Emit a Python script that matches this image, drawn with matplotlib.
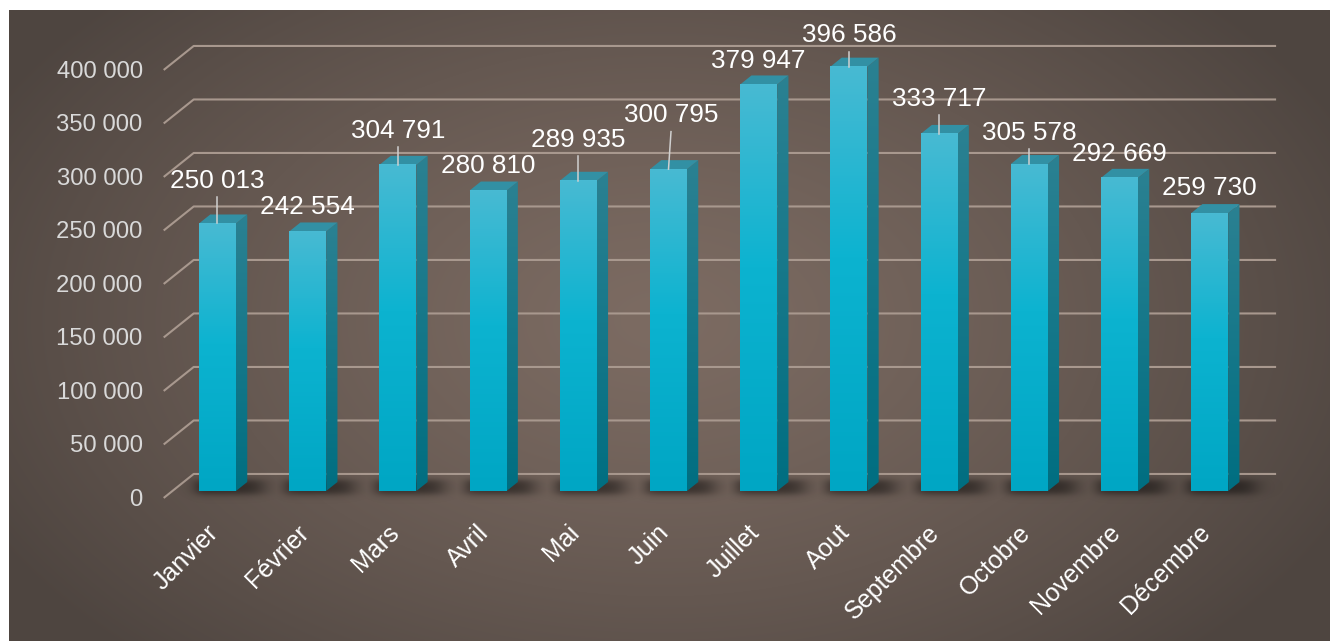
import numpy as np
import matplotlib
matplotlib.use("Agg")
from matplotlib import pyplot as plt
from matplotlib.patches import Polygon


mois = ["Janvier", "Février", "Mars", "Avril", "Mai", "Juin", "Juillet",
        "Aout", "Septembre", "Octobre", "Novembre", "Décembre"]
valeurs = [250013, 242554, 304791, 280810, 289935, 300795, 379947,
           396586, 333717, 305578, 292669, 259730]
graduations = [0, 50000, 100000, 150000, 200000, 250000, 300000, 350000, 400000]

# where each value label sits, in pixels from the front top edge of its bar
etiq_dx = [0, 0, 0, 0, 0, 2.5, 0, 0, 0, 0, 0, 0]
etiq_dy = [44.5, 26.5, 36, 27, 43, 56, 25.5, 33.5, 37, 33.5, 26, 27]


W, H = 1330, 641
PX_X = 90.2        # pixels per category
PX_Y = 0.00107     # pixels per unit
X0, Y0 = 217.5, 491.0

def px_x(p):
    return p / PX_X

def px_y(p):
    return p / PX_Y

# depth direction of the fake 3D (30 px right, 24 px up for a full depth)
DX, DY = px_x(30), px_y(24)
def recul(x, y, f):
    return x + f * DX, y + f * DY

F_AVANT, F_FOND, F_BARRE = -0.29, 0.71, 0.375
XG, XD = -0.5, 11.5

fig = plt.figure(figsize=(W / 100, H / 100), dpi=100)
fig.patch.set_facecolor("white")
ax = fig.add_axes([0, 0, 1, 1])
xmin, xmax = -X0 / PX_X, (W - X0) / PX_X
ymin, ymax = -px_y(H - Y0), px_y(Y0)

# brown radial background
gx, gy = np.meshgrid(np.arange(9, W), np.arange(10, H))
d = np.sqrt(((gx - 660) / 760.0) ** 2 + ((gy - 320) / 470.0) ** 2)
t = np.clip(d, 0, 1) ** 1.3
c_mil = np.array([124, 107, 98]) / 255
c_bord = np.array([78, 69, 64]) / 255
fond = c_mil * (1 - t[..., None]) + c_bord * t[..., None]
ax.imshow(fond, extent=[px_x(9 - X0), xmax, ymin, px_y(Y0 - 10)],
          aspect="auto", zorder=0, interpolation="bilinear")

# back wall grid and the side diagonals, tick labels on the front plane
for g in graduations:
    xa, ya = recul(XG, g, F_AVANT)
    xb, yb = recul(XG, g, F_FOND)
    xc, yc = recul(XD, g, F_FOND)
    ax.plot([xa, xb, xc], [ya, yb, yc], color="#a8988e", lw=1.5,
            solid_capstyle="butt", zorder=1)
    ax.text(xa - px_x(21), ya - px_y(7.9), f"{g:,}".replace(",", " "),
            ha="right", va="baseline", color="#d9d9d9", fontsize=17.2,
            family="Liberation Sans", zorder=6)

# soft shadow on the floor
sx0, sx1, sy0, sy1 = 150, 1300, 465, 510
ox, oy = np.meshgrid(np.arange(sx0, sx1) + 0.5, np.arange(sy0, sy1) + 0.5)
ombre = np.zeros_like(ox)
for i in range(len(valeurs)):
    xc = X0 + i * PX_X
    bx = 0.5 * (np.tanh((ox - (xc - 22)) / 8) - np.tanh((ox - (xc + 45)) / 12))
    by = 0.5 * (np.tanh((oy - 480) / 3.5) - np.tanh((oy - 494) / 4))
    ombre = np.maximum(ombre, bx * by)
rgba = np.zeros(ombre.shape + (4,))
rgba[..., 3] = 0.5 * ombre
ax.imshow(rgba, extent=[px_x(sx0 - X0), px_x(sx1 - X0), -px_y(sy1 - Y0), -px_y(sy0 - Y0)],
          aspect="auto", zorder=2, interpolation="bilinear")

def degrade(stops, n=256):
    pos = [s[0] for s in stops]
    cols = np.array([matplotlib.colors.to_rgb(s[1]) for s in stops])
    u = np.linspace(0, 1, n)
    arr = np.stack([np.interp(u, pos, cols[:, k]) for k in range(3)], axis=-1)
    return arr[:, None, :]

grad_face = degrade([(0, "#48bad3"), (0.45, "#0cb3d0"), (1, "#00a6c4")])
grad_cote = degrade([(0, "#2b8192"), (1, "#006e81")])

demi = px_x(18.5)
for i, v in enumerate(valeurs):
    g_, d_ = i - demi, i + demi
    # side face
    cote = [(d_, 0), (d_, v), recul(d_, v, F_BARRE), recul(d_, 0, F_BARRE)]
    p = Polygon(cote, closed=True, fc="none", ec="none", zorder=3)
    ax.add_patch(p)
    xs = [c[0] for c in cote]
    ys = [c[1] for c in cote]
    im = ax.imshow(grad_cote, extent=[min(xs), max(xs), min(ys), max(ys)],
                   aspect="auto", zorder=3, interpolation="bilinear")
    im.set_clip_path(p)
    # top face
    dessus = [(g_, v), (d_, v), recul(d_, v, F_BARRE), recul(g_, v, F_BARRE)]
    ax.add_patch(Polygon(dessus, closed=True, fc="#3290a4", ec="none", zorder=3))
    # front face
    ax.imshow(grad_face, extent=[g_, d_, 0, v], aspect="auto", zorder=4,
              interpolation="bilinear")

# value labels, with a leader line when pulled away from the bar
for i, v in enumerate(valeurs):
    lx = i + px_x(etiq_dx[i])
    ly = v + px_y(etiq_dy[i])
    if etiq_dy[i] > 30:
        ax.plot([lx, i], [ly - px_y(18.5), v], color="#d0d0d0", lw=1.1, zorder=5)
    ax.text(lx, ly - px_y(9), f"{v:,}".replace(",", " "), ha="center",
            va="baseline", color="white", fontsize=18.8, family="Liberation Sans",
            zorder=6)

# month names
for i, m in enumerate(mois):
    ax.text(i - px_x(3), -px_y(529 - Y0), m, rotation=45, rotation_mode="anchor",
            ha="right", va="center", color="white", fontsize=18,
            family="Liberation Sans", zorder=6)

ax.set_xlim(xmin, xmax)
ax.set_ylim(ymin, ymax)
ax.axis("off")

fig.savefig("out.png", dpi=100, facecolor="white")
